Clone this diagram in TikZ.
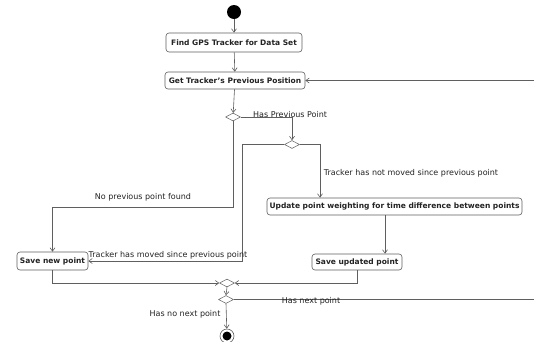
\documentclass[tikz,border=0pt]{standalone}
\usepackage{fontspec}
\setmainfont{DejaVu Sans}
\usetikzlibrary{arrows.meta,positioning,shapes.geometric}
\definecolor{edge}{RGB}{95,95,95}
\definecolor{ink}{RGB}{35,35,35}
\tikzset{
  actbox/.style={draw=edge,rounded corners=3pt,line width=0.6pt,fill=white,text=ink,
    font=\fontsize{7.5}{9}\selectfont\bfseries,inner sep=1pt},
  choice/.style={diamond,draw=edge,line width=0.5pt,fill=white,minimum width=15pt,
    minimum height=8pt,inner sep=0pt,aspect=1.9},
  flow/.style={draw=edge,line width=0.6pt,-{Straight Barb[length=3.5pt,width=5pt]}},
  guard/.style={font=\fontsize{8}{9}\selectfont,text=ink,inner sep=1pt}
}
\begin{document}
\begin{tikzpicture}[x=1pt,y=-1pt]
  \clip (0,0) rectangle (534,341);
  \fill[white] (0,0) rectangle (534,341);
  \node[circle,fill=black,minimum size=14pt,inner sep=0pt] (start) at (234,12) {};
  \node[actbox,minimum width=136pt,minimum height=19pt] (find) at (234,42.5) {Find GPS Tracker for Data Set};
  \node[actbox,minimum width=140pt,minimum height=17pt] (prev) at (235,80.5) {Get Tracker's Previous Position};
  \node[choice] (d1) at (233,117) {};
  \node[choice] (d2) at (292,144.5) {};
  \node[actbox,minimum width=255pt,minimum height=17pt] (upd) at (394.5,206.5) {Update point weighting for time difference between points};
  \node[actbox,minimum width=71pt,minimum height=18pt] (savenew) at (52.5,261) {Save new point};
  \node[actbox,minimum width=90pt,minimum height=16pt] (saveupd) at (357,262) {Save updated point};
  \node[choice] (merge) at (227,283) {};
  \node[choice] (dec) at (226,299.5) {};
  \node[circle,draw=edge,line width=0.6pt,minimum size=14pt,inner sep=0pt] (stop) at (227,336) {};
  \fill[black] (stop.center) circle (4.5pt);
  \coordinate (loop) at (560,0);

  \draw[flow] (start) -- (find);
  \draw[flow] (find) -- (prev);
  \draw[flow] (prev) -- (d1);
  \draw[flow] (d1.east) -| (d2.north);
  \node[guard,anchor=south west] (hasprev) at (252,119) {Has Previous Point};
  \draw[flow] (d1.south) -- ++(0,86) -| (savenew.north);
  \node[guard] (noprev) at (143,197.5) {No previous point found};
  \draw[flow] (d2.west) -- ++(-42,0) |- (savenew.east);
  \node[guard] (moved) at (168,255.5) {Tracker has moved since previous point};
  \draw[flow] (d2.east) -| ([xshift=-74.5pt]upd.north);
  \node[guard] (notmoved) at (411,173) {Tracker has not moved since previous point};
  \draw[flow] ([xshift=-9.5pt]upd.south) -- ([xshift=-9.5pt]upd.south |- saveupd.north);
  \draw[flow] (savenew.south) |- (merge.west);
  \draw[flow] (saveupd.south) |- (merge.east);
  \draw[flow] (merge.south) -- (dec.north);
  \draw[flow] (dec.east) -- (dec.east -| loop) |- (prev.east);
  \node[guard] (next) at (311,301.5) {Has next point};
  \draw[flow] (dec.south) -- (stop);
  \node[guard] (nonext) at (185,314) {Has no next point};
\end{tikzpicture}
\end{document}
